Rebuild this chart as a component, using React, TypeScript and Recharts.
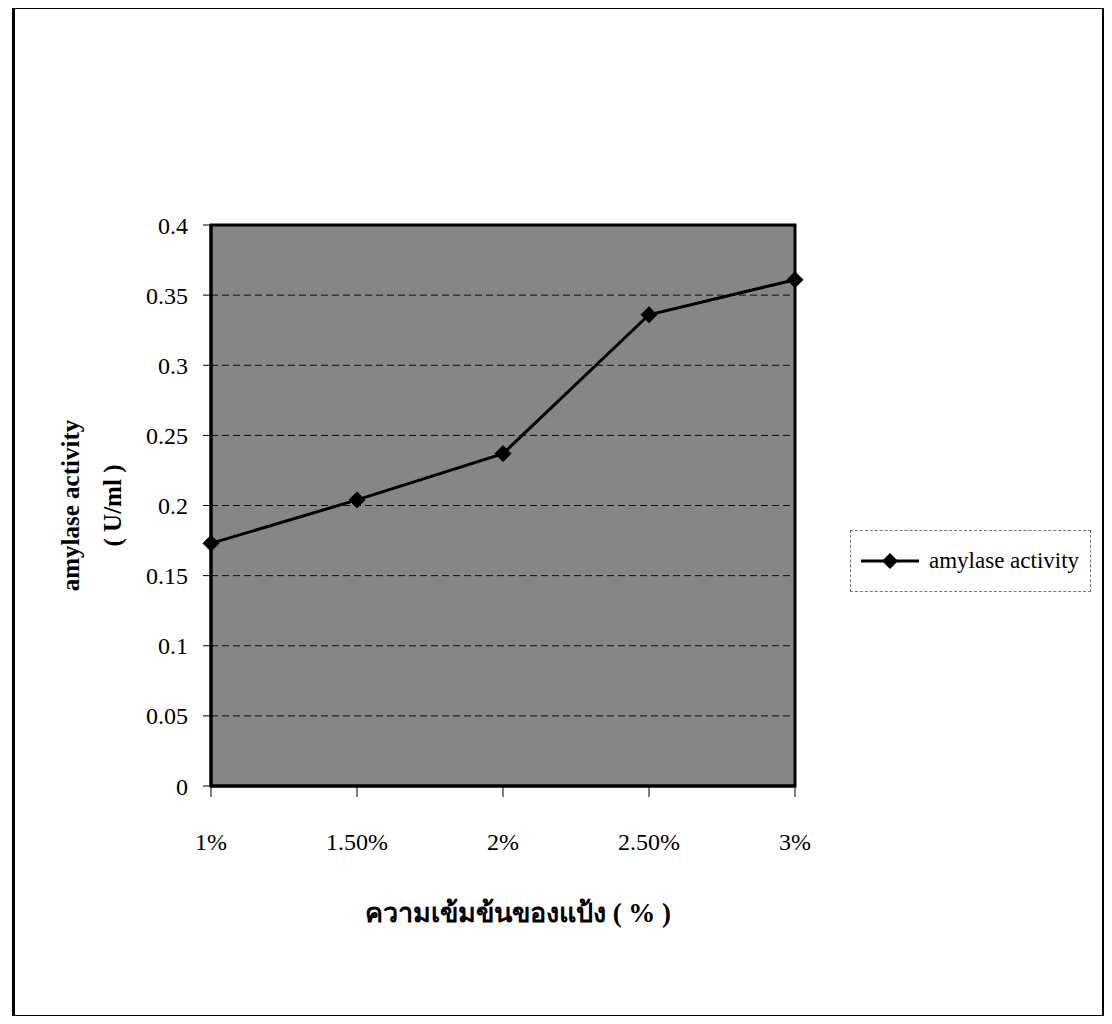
import {
  LineChart,
  Line,
  XAxis,
  YAxis,
  CartesianGrid,
  ReferenceArea,
  Legend,
} from "recharts";

// ─── Data ────────────────────────────────────────────────────────────────────

const concentrations = ["1%", "1.50%", "2%", "2.50%", "3%"];
const amylaseActivity = [0.173, 0.204, 0.237, 0.336, 0.361];
const yTicks = [0, 0.05, 0.1, 0.15, 0.2, 0.25, 0.3, 0.35, 0.4];

const SERIES_NAME = "amylase activity";
const X_TITLE = "ความเข้มข้นของแป้ง ( % )";
const Y_TITLE = "amylase activity";
const Y_UNIT = "( U/ml )";

const FONT = "'Liberation Serif', 'Times New Roman', 'DejaVu Serif', serif";

const data = concentrations.map((c, i) => ({
  conc: c,
  activity: amylaseActivity[i],
}));

// ─── Marks ───────────────────────────────────────────────────────────────────

const DIAMOND = 8;

function diamondPath(cx: number, cy: number) {
  const r = DIAMOND;
  return `M${cx},${cy - r} L${cx + r},${cy} L${cx},${cy + r} L${cx - r},${cy} Z`;
}

function renderDot(props: any) {
  const { cx, cy, index } = props;
  if (cx == null || cy == null) return <g key={index} />;
  return <path key={index} d={diamondPath(cx, cy)} fill="#000" stroke="#000" />;
}

function YTitle({ viewBox }: { viewBox?: any }) {
  if (!viewBox) return null;
  const cy = viewBox.y + viewBox.height / 2;
  const x1 = viewBox.x + 59;
  const x2 = viewBox.x + 101;
  return (
    <g fontFamily={FONT} fontWeight="bold" fontSize={25} fill="#000">
      <text
        x={x1}
        y={cy}
        textAnchor="middle"
        dominantBaseline="central"
        transform={`rotate(-90 ${x1} ${cy})`}
      >
        {Y_TITLE}
      </text>
      <text
        x={x2}
        y={cy}
        textAnchor="middle"
        dominantBaseline="central"
        transform={`rotate(-90 ${x2} ${cy})`}
      >
        {Y_UNIT}
      </text>
    </g>
  );
}

function XTitle({ viewBox }: { viewBox?: any }) {
  if (!viewBox) return null;
  const cx = viewBox.x + viewBox.width / 2 + 15;
  return (
    <text
      x={cx}
      y={viewBox.y + 127}
      textAnchor="middle"
      dominantBaseline="central"
      fontFamily={FONT}
      fontWeight="bold"
      fontSize={27}
      fill="#000"
    >
      {X_TITLE}
    </text>
  );
}

function LegendBox() {
  return (
    <div
      style={{
        boxSizing: "border-box",
        width: 241,
        height: 62,
        border: "1px dashed #777",
        display: "flex",
        alignItems: "center",
        fontFamily: FONT,
        fontSize: 23,
        color: "#000",
      }}
    >
      <svg width={70} height={20} style={{ marginLeft: 8 }}>
        <line x1={2} y1={10} x2={60} y2={10} stroke="#000" strokeWidth={3} />
        <path d={diamondPath(31, 10)} fill="#000" />
      </svg>
      <span>{SERIES_NAME}</span>
    </div>
  );
}

// ─── Chart ───────────────────────────────────────────────────────────────────

export default function App() {
  return (
    <div
      style={{
        position: "relative",
        width: 1112,
        height: 1024,
        margin: -8,
        background: "#fff",
      }}
    >
      <div
        style={{
          position: "absolute",
          left: 12,
          top: 7,
          width: 1092,
          height: 1010,
          boxSizing: "border-box",
          border: "2px solid #000",
          borderLeftWidth: 3,
        }}
      />
      <div style={{ position: "absolute", left: 0, top: 0 }}>
        <LineChart
          width={1112}
          height={1024}
          data={data}
          margin={{ top: 225, right: 317, bottom: 98, left: 11 }}
        >
          <CartesianGrid
            vertical={false}
            fill="#868686"
            fillOpacity={1}
            stroke="#111"
            strokeDasharray="7 4"
          />
          <XAxis
            dataKey="conc"
            height={140}
            tickSize={11}
            tickMargin={36}
            tickLine={{ stroke: "#000" }}
            axisLine={{ stroke: "#000", strokeWidth: 3 }}
            tick={{ fill: "#000", fontSize: 24, fontFamily: FONT }}
            interval={0}
            label={<XTitle />}
          />
          <YAxis
            width={200}
            domain={[0, 0.4]}
            ticks={yTicks}
            tickSize={8}
            tickMargin={15}
            tickLine={{ stroke: "#000" }}
            axisLine={{ stroke: "#000", strokeWidth: 3 }}
            tick={{ fill: "#000", fontSize: 24, fontFamily: FONT }}
            label={<YTitle />}
          />
          <ReferenceArea
            x1="1%"
            x2="3%"
            y1={0}
            y2={0.4}
            fill="none"
            stroke="#000"
            strokeWidth={3}
            ifOverflow="visible"
          />
          <Line
            type="linear"
            dataKey="activity"
            name={SERIES_NAME}
            stroke="#000"
            strokeWidth={3}
            dot={renderDot}
            activeDot={false}
            isAnimationActive={false}
          />
          <Legend
            layout="vertical"
            align="center"
            verticalAlign="middle"
            wrapperStyle={{ left: 850, top: 530, width: 241, height: 62 }}
            content={<LegendBox />}
          />
        </LineChart>
      </div>
    </div>
  );
}
